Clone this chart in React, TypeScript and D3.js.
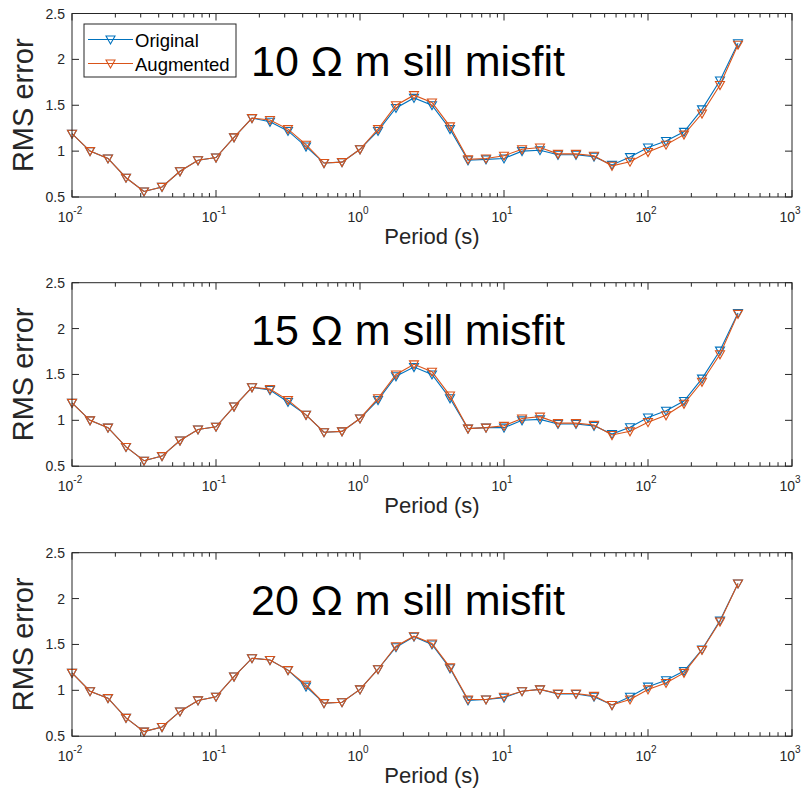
import React from "react";
import * as d3 from "d3";

// Period (s) sample points
const periods = [
  0.01, 0.01334, 0.01778, 0.02371, 0.03162, 0.04217, 0.05623, 0.07499,
  0.1, 0.1334, 0.1778, 0.2371, 0.3162, 0.4217, 0.5623, 0.7499,
  1, 1.334, 1.778, 2.371, 3.162, 4.217, 5.623, 7.499,
  10, 13.34, 17.78, 23.71, 31.62, 42.17, 56.23, 74.99,
  100, 133.4, 177.8, 237.1, 316.2, 421.7,
];

// Panel titles
const titles = ["10 Ω m sill misfit", "15 Ω m sill misfit", "20 Ω m sill misfit"];

// Original series (blue)
const original10 = [1.19, 1.0, 0.92, 0.71, 0.56, 0.61, 0.78, 0.9, 0.93, 1.15, 1.36, 1.32, 1.22, 1.05, 0.87, 0.88, 1.02, 1.22, 1.47, 1.58, 1.5, 1.24, 0.9, 0.91, 0.92, 1.0, 1.01, 0.96, 0.96, 0.94, 0.85, 0.935, 1.04, 1.11, 1.21, 1.455, 1.77, 2.175];
const original15 = [1.19, 1.0, 0.92, 0.71, 0.56, 0.61, 0.78, 0.9, 0.93, 1.15, 1.36, 1.33, 1.2, 1.06, 0.87, 0.88, 1.02, 1.22, 1.48, 1.58, 1.5, 1.24, 0.91, 0.92, 0.92, 1.0, 1.01, 0.96, 0.96, 0.94, 0.85, 0.925, 1.03, 1.105, 1.21, 1.455, 1.76, 2.17];
const original20 = [1.19, 0.99, 0.915, 0.7, 0.55, 0.6, 0.77, 0.89, 0.93, 1.15, 1.35, 1.33, 1.22, 1.04, 0.86, 0.87, 1.01, 1.23, 1.47, 1.585, 1.5, 1.24, 0.89, 0.9, 0.92, 0.99, 1.01, 0.96, 0.96, 0.93, 0.84, 0.93, 1.04, 1.11, 1.21, 1.445, 1.76, 2.165];

// Augmented series (orange)
const augmented10 = [1.19, 1.0, 0.92, 0.71, 0.56, 0.61, 0.78, 0.9, 0.93, 1.15, 1.36, 1.34, 1.24, 1.07, 0.87, 0.88, 1.02, 1.24, 1.5, 1.61, 1.53, 1.27, 0.91, 0.92, 0.95, 1.02, 1.04, 0.97, 0.97, 0.95, 0.84, 0.885, 0.99, 1.07, 1.18, 1.41, 1.72, 2.16];
const augmented15 = [1.19, 1.0, 0.92, 0.71, 0.56, 0.61, 0.78, 0.9, 0.93, 1.15, 1.36, 1.34, 1.22, 1.06, 0.87, 0.88, 1.02, 1.24, 1.5, 1.61, 1.53, 1.27, 0.91, 0.92, 0.94, 1.02, 1.04, 0.97, 0.97, 0.95, 0.84, 0.88, 0.98, 1.055, 1.18, 1.42, 1.72, 2.16];
const augmented20 = [1.19, 0.99, 0.915, 0.7, 0.55, 0.6, 0.77, 0.89, 0.93, 1.15, 1.35, 1.33, 1.22, 1.06, 0.86, 0.87, 1.01, 1.23, 1.48, 1.59, 1.51, 1.25, 0.9, 0.9, 0.93, 0.99, 1.01, 0.965, 0.965, 0.94, 0.84, 0.9, 1.01, 1.08, 1.19, 1.44, 1.75, 2.165];

const originalSets = [original10, original15, original20];
const augmentedSets = [augmented10, augmented15, augmented20];

const yTicks = [0.5, 1, 1.5, 2, 2.5];
const yTickLabels = ["0.5", "1", "1.5", "2", "2.5"];
const xDecades = [0.01, 0.1, 1, 10, 100, 1000];
const xExponents = ["-2", "-1", "0", "1", "2", "3"];
const seriesNames = ["Original", "Augmented"];

const BLUE = "#0072BD";
const ORANGE = "#D95319";
const AXIS = "#262626";
const FONT = "'Liberation Sans', Arial, Helvetica, sans-serif";

const W = 805;
const H = 793;
const X0 = 72;
const X1 = 792;
const TOPS = [13.5, 282.7, 552.7];
const PH = 183.5;

const x = d3.scaleLog().domain([0.01, 1000]).range([X0, X1]);

function tri(cx: number, cy: number) {
  return `M${cx - 4.5},${cy - 3.5}L${cx + 4.5},${cy - 3.5}L${cx},${cy + 4.5}Z`;
}

function Series({ vals, y, color }: { vals: number[]; y: d3.ScaleLinear<number, number>; color: string }) {
  const line = d3
    .line<number>()
    .x((_, i) => x(periods[i]))
    .y((v) => y(v));
  return (
    <g>
      <path d={line(vals) || ""} fill="none" stroke={color} strokeWidth={1.1} />
      {vals.map((v, i) => (
        <path key={i} d={tri(x(periods[i]), y(v))} fill="none" stroke={color} strokeWidth={1.1} />
      ))}
    </g>
  );
}

function Panel({ idx }: { idx: number }) {
  const top = TOPS[idx];
  const bottom = top + PH;
  const y = d3.scaleLinear().domain([0.5, 2.5]).range([bottom, top]);
  const minor: number[] = [];
  for (let d = 0; d < xDecades.length - 1; d++) {
    for (let m = 2; m <= 9; m++) minor.push(xDecades[d] * m);
  }
  return (
    <g>
      {/* title */}
      <text x={251} y={top + 62.5} fontFamily={FONT} fontSize={43} fill="#000">
        {titles[idx]}
      </text>
      {/* series */}
      <Series vals={originalSets[idx]} y={y} color={BLUE} />
      <Series vals={augmentedSets[idx]} y={y} color={ORANGE} />
      {/* box */}
      <rect x={X0} y={top} width={X1 - X0} height={PH} fill="none" stroke={AXIS} strokeWidth={1} />
      {/* x ticks */}
      {xDecades.map((t, i) => (
        <g key={"xt" + i}>
          <line x1={x(t)} x2={x(t)} y1={bottom} y2={bottom - 7} stroke={AXIS} />
          <line x1={x(t)} x2={x(t)} y1={top} y2={top + 7} stroke={AXIS} />
          <text x={x(t) - 2} y={bottom + 24.5} textAnchor="middle" fontFamily={FONT} fontSize={14} fill={AXIS}>
            10
            <tspan dy={-8} fontSize={10}>
              {xExponents[i]}
            </tspan>
          </text>
        </g>
      ))}
      {minor.map((t, i) => (
        <g key={"mt" + i}>
          <line x1={x(t)} x2={x(t)} y1={bottom} y2={bottom - 4} stroke={AXIS} />
          <line x1={x(t)} x2={x(t)} y1={top} y2={top + 4} stroke={AXIS} />
        </g>
      ))}
      {/* y ticks */}
      {yTicks.map((t, i) => (
        <g key={"yt" + i}>
          <line x1={X0} x2={X0 + 7} y1={y(t)} y2={y(t)} stroke={AXIS} />
          <line x1={X1} x2={X1 - 7} y1={y(t)} y2={y(t)} stroke={AXIS} />
          <text x={65} y={y(t) + 5} textAnchor="end" fontFamily={FONT} fontSize={14} fill={AXIS}>
            {yTickLabels[i]}
          </text>
        </g>
      ))}
      {/* axis labels */}
      <text x={(X0 + X1) / 2} y={bottom + 47} textAnchor="middle" fontFamily={FONT} fontSize={22} fill={AXIS}>
        Period (s)
      </text>
      <text
        transform={`translate(33,${(top + bottom) / 2}) rotate(-90)`}
        textAnchor="middle"
        fontFamily={FONT}
        fontSize={29}
        fill={AXIS}
      >
        RMS error
      </text>
      {idx === 0 && (
        <g>
          <rect x={84} y={24} width={152} height={53} fill="#fff" stroke={AXIS} strokeWidth={1} />
          {[BLUE, ORANGE].map((c, i) => {
            const cy = 39.5 + i * 24;
            return (
              <g key={"lg" + i}>
                <line x1={88} x2={133} y1={cy} y2={cy} stroke={c} strokeWidth={1.1} />
                <path d={tri(110.5, cy)} fill="none" stroke={c} strokeWidth={1.1} />
                <text x={135} y={cy + 7} fontFamily={FONT} fontSize={18.5} fill="#000">
                  {seriesNames[i]}
                </text>
              </g>
            );
          })}
        </g>
      )}
    </g>
  );
}

export default function App() {
  return (
    <svg
      width={W}
      height={H}
      viewBox={`0 0 ${W} ${H}`}
      style={{ position: "absolute", left: 0, top: 0, background: "#fff" }}
    >
      <rect width={W} height={H} fill="#fff" />
      {[0, 1, 2].map((i) => (
        <Panel key={i} idx={i} />
      ))}
    </svg>
  );
}
